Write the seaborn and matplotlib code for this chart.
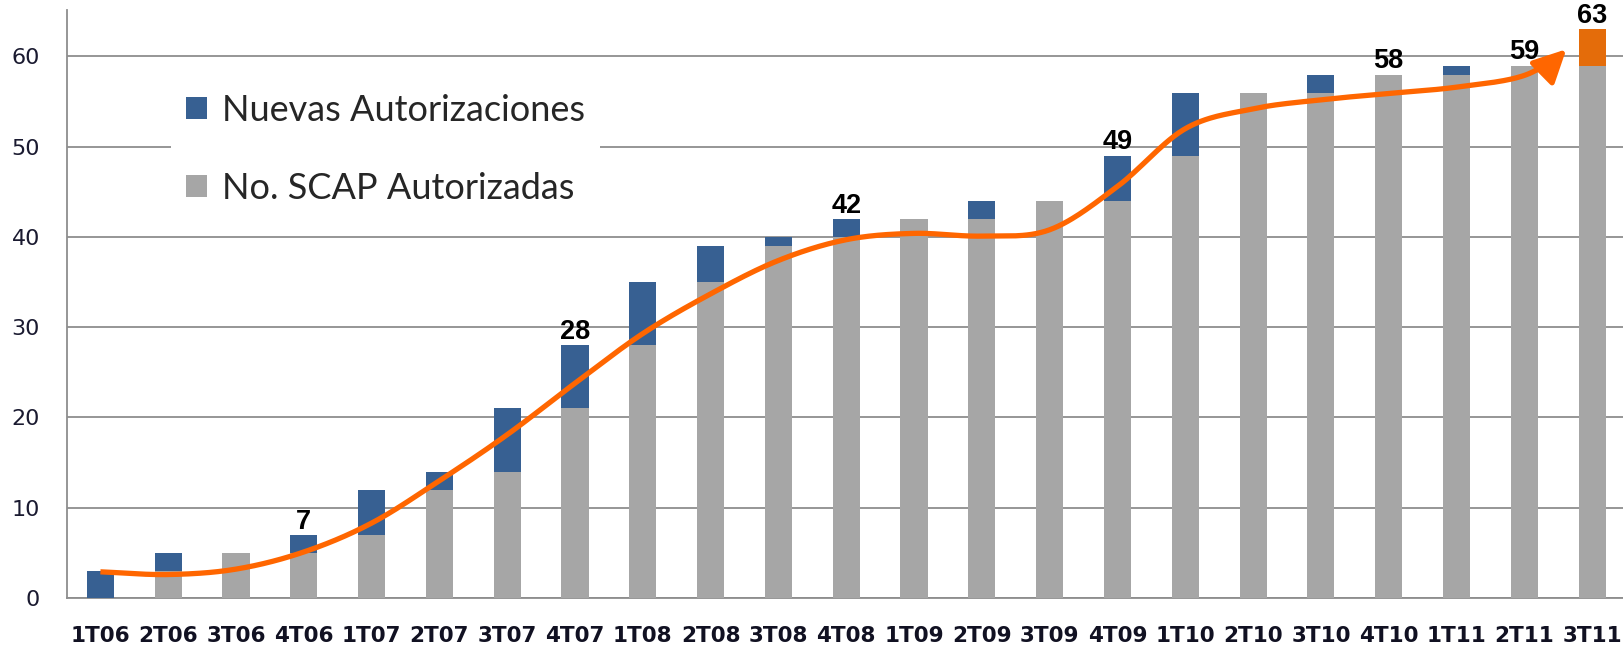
import numpy as np
import pandas as pd
import matplotlib
matplotlib.use("Agg")
import matplotlib.pyplot as plt
from matplotlib.patches import Patch
import seaborn as sns

# quarters
categories = ["1T06", "2T06", "3T06", "4T06", "1T07", "2T07", "3T07", "4T07",
              "1T08", "2T08", "3T08", "4T08", "1T09", "2T09", "3T09", "4T09",
              "1T10", "2T10", "3T10", "4T10", "1T11", "2T11", "3T11"]
# accumulated authorized SCAP at the start of the quarter (gray)
scap_autorizadas = [0, 3, 5, 5, 7, 12, 14, 21, 28, 35, 39, 40, 42, 42, 44, 44,
                    49, 56, 56, 58, 58, 59, 59]
# new authorizations in the quarter (blue / orange on the last one)
nuevas = [3, 2, 0, 2, 5, 2, 7, 7, 7, 4, 1, 2, 0, 2, 0, 5, 7, 0, 2, 0, 1, 0, 4]
# bars with a number on top
labeled = ["4T06", "4T07", "4T08", "4T09", "4T10", "2T11", "3T11"]
# hand drawn orange trend, value at each quarter, last point = arrow tip
trend_x = [0, 1, 2, 3, 4, 5, 6, 7, 8, 9, 10, 11, 12, 13, 14, 15, 16, 17, 18,
           19, 20, 21, 21.62]
trend_y = [2.9, 2.6, 3.2, 5.1, 8.3, 13.0, 18.1, 23.8, 29.3, 33.7, 37.4, 39.7,
           40.4, 40.1, 40.8, 45.6, 52.0, 54.2, 55.2, 55.9, 56.6, 57.9, 60.8]

df = pd.DataFrame({"cat": categories, "base": scap_autorizadas, "new": nuevas})
df["total"] = df["base"] + df["new"]

BLUE = "#376092"
GRAY = "#A6A6A6"
ORANGE_BAR = "#E46C0A"
ORANGE_LINE = "#FF6600"
GRID = "#8E8E8E"

sns.set_style("white")
plt.rcParams["font.family"] = ["DejaVu Sans"]

fig = plt.figure(figsize=(16.23, 6.53), dpi=100)
ax = fig.add_axes([66.5 / 1623, 55 / 653, (1626 - 66.5) / 1623, 588 / 653])

top_colors = [BLUE] * (len(categories) - 1) + [ORANGE_BAR]
sns.barplot(data=df, x="cat", y="total", hue="cat", palette=top_colors,
            order=categories, hue_order=categories, dodge=False, legend=False,
            width=0.4, saturation=1, linewidth=0, ax=ax, zorder=3)
sns.barplot(data=df, x="cat", y="base", color=GRAY, order=categories,
            width=0.4, saturation=1, linewidth=0, ax=ax, zorder=3)


def catmull_rom(xs, ys, n=30):
    pts = np.column_stack([xs, ys]).astype(float)
    pts = np.vstack([pts[0] - (pts[1] - pts[0]), pts, pts[-1] + (pts[-1] - pts[-2])])
    out = []
    for i in range(1, len(pts) - 2):
        p0, p1, p2, p3 = pts[i - 1], pts[i], pts[i + 1], pts[i + 2]
        t = np.linspace(0, 1, n, endpoint=False)[:, None]
        seg = 0.5 * ((2 * p1) + (-p0 + p2) * t + (2 * p0 - 5 * p1 + 4 * p2 - p3) * t ** 2
                     + (-p0 + 3 * p1 - 3 * p2 + p3) * t ** 3)
        out.append(seg)
    out.append(pts[-2][None, :])
    return np.vstack(out)


curve = catmull_rom(trend_x, trend_y)
cut = len(curve) - 12
ax.plot(curve[:cut + 1, 0], curve[:cut + 1, 1], color=ORANGE_LINE, lw=3.8,
        solid_capstyle="butt", zorder=5)
ax.annotate("", xy=tuple(curve[-1]), xytext=tuple(curve[cut]),
            arrowprops=dict(arrowstyle="-|>,head_length=1.0,head_width=0.5",
                            color=ORANGE_LINE, lw=3.8, mutation_scale=20,
                            shrinkA=0, shrinkB=0,
                            connectionstyle="arc3,rad=0.08"),
            zorder=5)

for i, c in enumerate(categories):
    if c in labeled:
        ax.text(i, df["total"][i] + 0.7, str(df["total"][i]), ha="center",
                va="baseline", fontsize=19.5, fontweight="bold",
                family=["Liberation Sans", "DejaVu Sans"], color="black", zorder=6)

ax.set_xlim(-0.5, len(categories) - 0.5)
ax.set_ylim(0, 65.15)
ax.set_yticks(range(0, 61, 10))
ax.yaxis.grid(True, color=GRID, lw=1.3, zorder=0)
ax.set_axisbelow(True)
ax.set_xlabel("")
ax.set_ylabel("")

for s in ["top", "right"]:
    ax.spines[s].set_visible(False)
for s in ["left", "bottom"]:
    ax.spines[s].set_color(GRID)
    ax.spines[s].set_linewidth(1.3)

ax.set_xticks(np.arange(len(categories)))
ax.set_xticklabels(categories, fontsize=15.5, fontweight="bold", color="#111122")
ax.tick_params(axis="x", which="major", length=0, pad=20)
ax.set_xticks(np.arange(-0.5, len(categories), 1.0), minor=True)
ax.tick_params(axis="x", which="minor", length=8, width=1.3, color=GRID,
               direction="out")
ax.tick_params(axis="y", length=7, width=1.3, color=GRID, direction="out",
               labelsize=16, labelcolor="#1a1a30", pad=12)

handles = [Patch(facecolor=BLUE, edgecolor="none"),
           Patch(facecolor=GRAY, edgecolor="none")]
leg = ax.legend(handles, ["Nuevas Autorizaciones", "No. SCAP Autorizadas"],
                loc="upper left", bbox_to_anchor=(0.067, 0.883),
                borderaxespad=0, frameon=True, fancybox=False,
                prop={"family": "Lato", "size": 26}, handlelength=0.58,
                handleheight=0.58, handletextpad=0.4, labelspacing=1.24,
                borderpad=0.42)
leg.get_frame().set_facecolor("white")
leg.get_frame().set_edgecolor("none")
leg.get_frame().set_alpha(1)
leg.set_zorder(4)

fig.savefig("out.png", dpi=100, facecolor="white")
